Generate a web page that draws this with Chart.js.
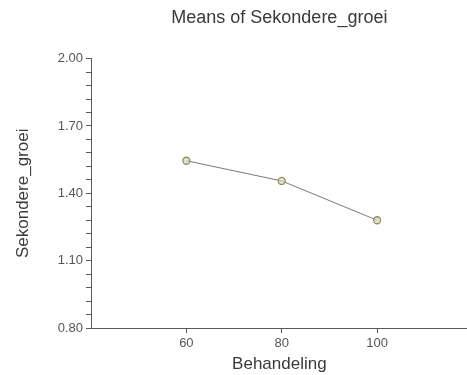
<!DOCTYPE html>
<html>
<head>
<meta charset="utf-8">
<script src="https://cdn.jsdelivr.net/npm/chart.js@4.4.1/dist/chart.umd.min.js"></script>
<style>
  html, body { margin: 0; padding: 0; background: #ffffff; }
  #wrap { width: 467px; height: 375px; overflow: hidden; }
  canvas { display: block; }
</style>
</head>
<body>
<div id="wrap"><canvas id="c" width="473" height="375"></canvas></div>
<script>
// Treatment levels and the mean secondary growth at each level
const behandeling = [60, 80, 100];
const gemiddelde = [1.545, 1.455, 1.28];

// Labelled ticks on each axis
const xTicks = [60, 80, 100];
const yMajorTicks = [0.80, 1.10, 1.40, 1.70, 2.00];
const yMinorStep = 0.06;

const FONT = "'Liberation Sans', Arial, sans-serif";
const AXIS = '#5a5a5a';

// Centre the chart title over the plotting area rather than the whole canvas
const titleOverPlot = {
  id: 'titleOverPlot',
  afterLayout(chart) {
    const t = chart.titleBlock;
    if (t) {
      t.left = chart.chartArea.left;
      t.right = chart.chartArea.right;
    }
  }
};

new Chart(document.getElementById('c'), {
  type: 'line',
  plugins: [titleOverPlot],
  data: {
    datasets: [{
      data: behandeling.map((x, i) => ({ x: x, y: gemiddelde[i] })),
      borderColor: '#7a7a72',
      borderWidth: 1,
      pointRadius: 3.5,
      pointBorderWidth: 1.3,
      pointBorderColor: '#8f9060',
      pointBackgroundColor: 'rgba(215,215,195,0.7)',
      tension: 0
    }]
  },
  options: {
    responsive: false,
    animation: false,
    layout: { padding: 0 },
    plugins: {
      legend: { display: false },
      tooltip: { enabled: false },
      title: {
        display: true,
        text: 'Means of Sekondere_groei',
        color: '#3a3a3a',
        font: { family: FONT, size: 18, weight: 'normal' },
        padding: { top: 7, bottom: 30 }
      }
    },
    scales: {
      x: {
        type: 'linear',
        min: 40,
        max: 119,
        afterBuildTicks: (s) => { s.ticks = xTicks.map(v => ({ value: v })); },
        afterFit: (s) => { s.height = 47; },
        border: { display: true, color: AXIS, width: 1 },
        grid: { display: true, drawOnChartArea: false, drawTicks: true, tickLength: 5, color: AXIS },
        ticks: {
          autoSkip: false,
          maxRotation: 0,
          padding: 3,
          color: '#555',
          font: { family: FONT, size: 13 },
          callback: (v) => String(v)
        },
        title: {
          display: true,
          text: 'Behandeling',
          color: '#3a3a3a',
          font: { family: FONT, size: 17 },
          padding: { top: 0, bottom: 0 }
        }
      },
      y: {
        type: 'linear',
        min: yMajorTicks[0],
        max: yMajorTicks[yMajorTicks.length - 1],
        afterFit: (s) => { s.width = 91; },
        border: { display: true, color: AXIS, width: 1 },
        grid: { display: true, drawOnChartArea: false, drawTicks: true, tickLength: 5, color: AXIS },
        ticks: {
          stepSize: yMinorStep,
          autoSkip: false,
          padding: 3,
          color: '#555',
          font: { family: FONT, size: 13 },
          callback: (v) => {
            const hit = yMajorTicks.find(t => Math.abs(t - v) < 1e-6);
            return hit === undefined ? '' : hit.toFixed(2);
          }
        },
        title: {
          display: true,
          text: 'Sekondere_groei',
          color: '#3a3a3a',
          font: { family: FONT, size: 17 },
          padding: { top: 13, bottom: 0 }
        }
      }
    }
  }
});
</script>
</body>
</html>
